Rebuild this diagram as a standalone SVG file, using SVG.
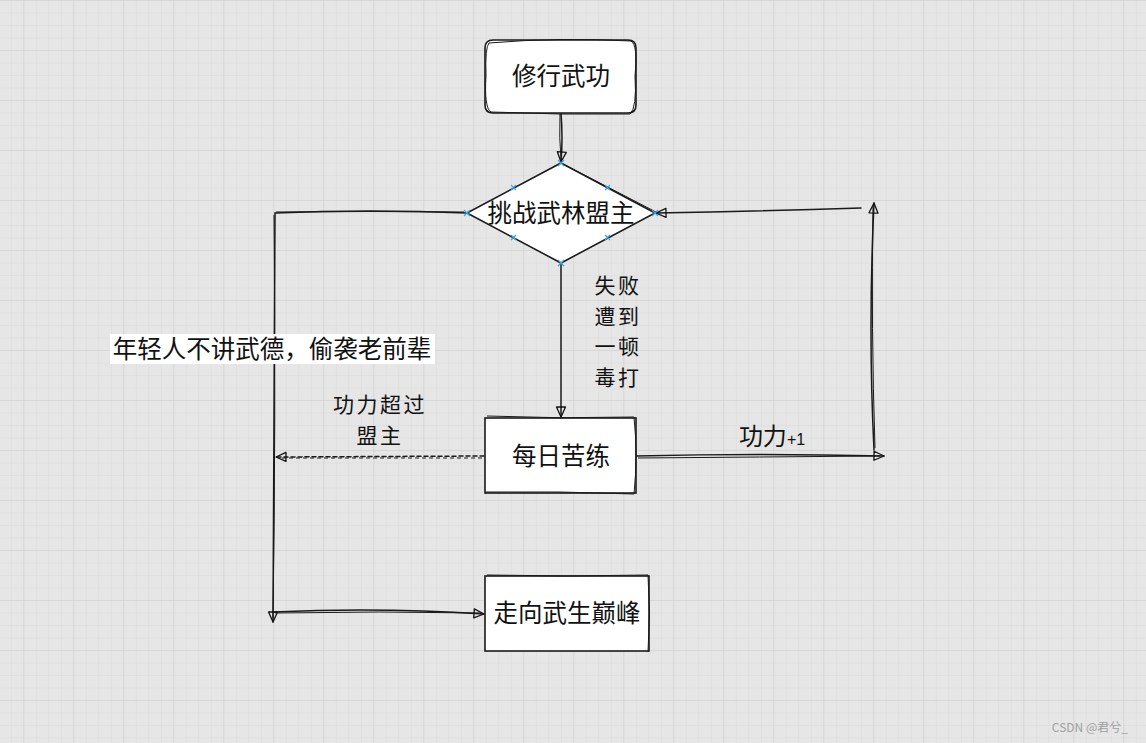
<svg xmlns="http://www.w3.org/2000/svg" width="1146" height="743" viewBox="0 0 1146 743">
<defs>
<pattern id="minor" x="23.3" y="0" width="12.5" height="12.5" patternUnits="userSpaceOnUse">
<path d="M0,0 V12.5 M0,0 H12.5" fill="none" stroke="#d9d9d9" stroke-width="1"/>
</pattern>
<pattern id="major" x="23.3" y="0" width="50" height="50" patternUnits="userSpaceOnUse">
<path d="M0,0 V50 M0,0 H50" fill="none" stroke="#cdcdcd" stroke-width="1"/>
</pattern>
<marker id="arr" viewBox="0 0 12 12" refX="11" refY="6" markerWidth="12" markerHeight="12" markerUnits="userSpaceOnUse" orient="auto">
<path d="M1,1.5 L11,6 L1,10.5 Z" fill="none" stroke="#111" stroke-width="1.3" stroke-linejoin="round"/>
</marker>
</defs>
<style>
.box{fill:#fff;stroke:#1a1a1a;stroke-width:1.6}
.sk{fill:none;stroke:#1a1a1a;stroke-width:1}
.ln{fill:none;stroke:#1a1a1a;stroke-width:1.5;stroke-linecap:round}
.t{font-family:"Noto Sans CJK SC","Noto Sans",sans-serif;font-size:24.5px;fill:#111;text-anchor:middle}
.lbl{font-family:"Noto Sans CJK SC","Noto Sans",sans-serif;font-size:24px;fill:#111;text-anchor:middle}
.st{font-family:"Noto Sans CJK SC","Noto Sans",sans-serif;font-size:21px;letter-spacing:2.5px;fill:#111;text-anchor:middle}
.pt{stroke:#3aa8e0;stroke-width:1.2}
</style>
<rect width="1146" height="743" fill="#e6e6e6"/>
<rect width="1146" height="743" fill="url(#minor)"/>
<rect width="1146" height="743" fill="url(#major)"/>

<g id="connectors">
<path class="ln" d="M561,113 Q563,138 561,162" marker-end="url(#arr)"/>
<path class="sk" d="M560,114 Q559,138 561,160"/>
<path class="ln" d="M467,213 Q370,209 275,213 L273,622" marker-end="url(#arr)"/>
<path class="sk" d="M464,212 Q370,211 276,212"/>
<path class="sk" d="M274,215 Q276,420 273,618"/>
<path class="ln" d="M273,612 Q380,607 484,614" marker-end="url(#arr)"/>
<path class="sk" d="M275,613 Q380,611 482,613"/>
<path class="ln" d="M561,263 L561,417" marker-end="url(#arr)"/>
<path class="ln" d="M484,456 L276,457" stroke-dasharray="4,3" marker-end="url(#arr)"/>
<path class="sk" d="M482,458 L280,458" stroke-dasharray="4,3"/>
<path class="ln" d="M636,456 Q760,453 884,456" marker-end="url(#arr)"/>
<path class="sk" d="M638,458 Q760,457 880,456"/>
<path class="ln" d="M874,450 Q868,330 874,203" marker-end="url(#arr)"/>
<path class="sk" d="M875,448 Q871,330 873,206"/>
<path class="ln" d="M861,208 Q760,211 656,213" marker-end="url(#arr)"/>
</g>

<g id="n-start">
<path class="box" d="M493,40 H628 Q636,40 636,48 V105 Q636,113 628,113 H493 Q485,113 485,105 V48 Q485,40 493,40 Z"/>
<path class="sk" d="M489,43 Q560,37 631,41 Q638,45 635,76 Q637,108 630,114 Q560,115 491,112 Q484,108 486,76 Q485,47 489,43"/>
<text class="t" x="561" y="85">修行武功</text>
</g>

<g id="n-decision">
<path class="box" d="M561,163 L655,213 L561,263 L467,213 Z"/>
<path class="sk" d="M563,164 L656,212"/>
<text class="t" x="561" y="222">挑战武林盟主</text>
<g class="pt">
<path d="M558,160 l6,6 M564,160 l-6,6"/>
<path d="M652,210 l6,6 M658,210 l-6,6"/>
<path d="M558,260 l6,6 M564,260 l-6,6"/>
<path d="M464,210 l6,6 M470,210 l-6,6"/>
<path d="M511,185 l5,5 M516,185 l-5,5"/>
<path d="M605,185 l5,5 M610,185 l-5,5"/>
<path d="M511,235 l5,5 M516,235 l-5,5"/>
<path d="M605,235 l5,5 M610,235 l-5,5"/>
</g>
</g>

<g id="n-daily">
<rect class="box" x="485" y="418" width="151" height="75"/>
<path class="sk" d="M487,416 Q560,419 634,417 Q638,455 634,494 Q560,491 486,492"/>
<text class="t" x="561" y="465">每日苦练</text>
</g>

<g id="n-peak">
<rect class="box" x="485" y="576" width="164" height="75"/>
<path class="sk" d="M487,575 Q567,577 648,575 Q651,613 648,652"/>
<text class="t" x="567" y="622">走向武生巅峰</text>
</g>

<g id="labels">
<rect x="110" y="334" width="325" height="30" fill="#fff"/>
<text class="t" x="272" y="358">年轻人不讲武德，偷袭老前辈</text>
<text class="st" x="618" y="293">失败<tspan x="618" dy="30.5">遭到</tspan><tspan x="618" dy="30.5">一顿</tspan><tspan x="618" dy="30.5">毒打</tspan></text>
<text class="st" x="380" y="412">功力超过<tspan x="380" dy="30.5">盟主</tspan></text>
<text class="lbl" x="772" y="445">功力<tspan font-size="16" font-family="Liberation Sans, sans-serif">+1</tspan></text>
</g>

<text x="1128" y="732" font-family="'Noto Sans CJK SC','Noto Sans',sans-serif" font-size="12" fill="#a0a0a0" text-anchor="end">CSDN @君兮_</text>
</svg>
